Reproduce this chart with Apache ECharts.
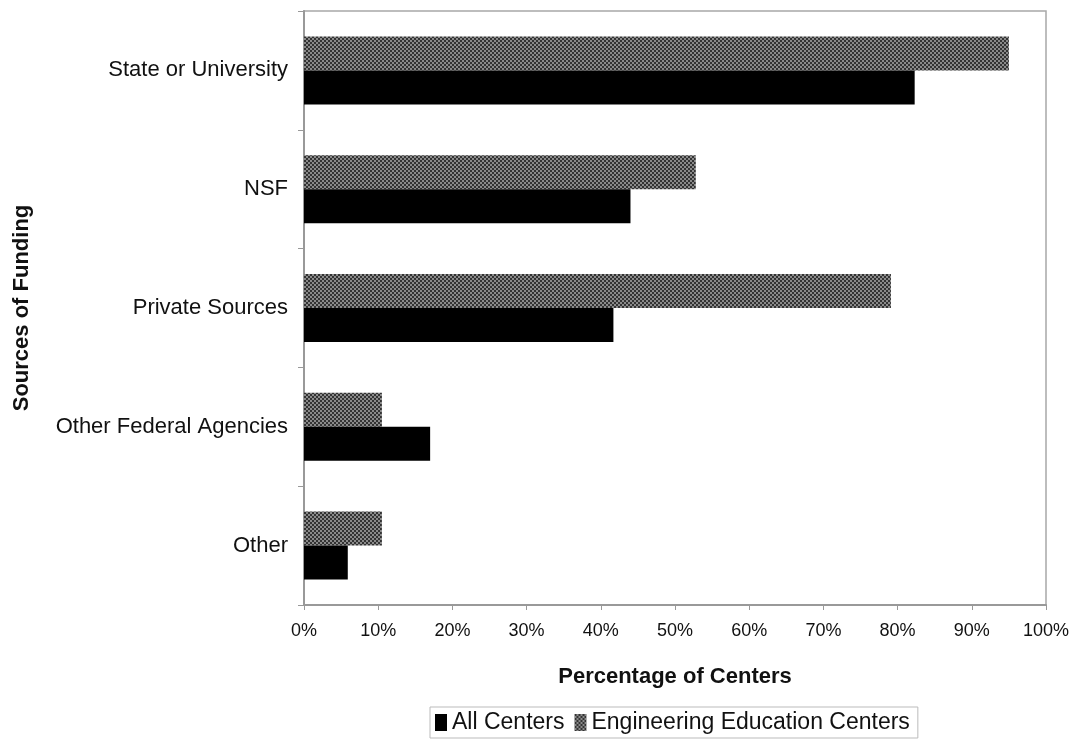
<!DOCTYPE html>
<html>
<head>
<meta charset="utf-8">
<script src="https://cdn.jsdelivr.net/npm/echarts@6/dist/echarts.min.js"></script>
<style>
  html, body { margin: 0; padding: 0; background: #fff; }
  #chart { width: 1079px; height: 742px; }
</style>
</head>
<body>
<div id="chart"></div>
<script>
// Funding sources, listed top to bottom
const categories = ['State or University', 'NSF', 'Private Sources', 'Other Federal Agencies', 'Other'];
// Share of centers (%) receiving each funding source
const allCenters = [82.3, 44.0, 41.7, 17.0, 5.9];
const engineeringCenters = [95.0, 52.8, 79.1, 10.5, 10.5];
const xTicks = [0, 10, 20, 30, 40, 50, 60, 70, 80, 90, 100];

// Fine dotted fill used for the Engineering Education Centers bars
function dotPattern() {
  const c = document.createElement('canvas');
  c.width = 4; c.height = 4;
  const ctx = c.getContext('2d');
  ctx.fillStyle = '#8a8a8a';
  ctx.fillRect(0, 0, 4, 4);
  ctx.fillStyle = '#333';
  ctx.fillRect(0, 0, 2, 2);
  ctx.fillRect(2, 2, 2, 2);
  return c;
}

const font = '"Liberation Sans", Arial, sans-serif';
const chart = echarts.init(document.getElementById('chart'));
chart.setOption({
  animation: false,
  backgroundColor: '#fff',
  textStyle: { fontFamily: font },
  grid: {
    left: 304, right: 33, top: 11, bottom: 137,
    outerBoundsMode: 'none', containLabel: false,
    show: true, borderColor: '#a8a8a8', borderWidth: 1.5
  },
  legend: {
    data: ['All Centers', 'Engineering Education Centers'],
    top: 707, left: 430,
    orient: 'horizontal',
    icon: 'rect',
    itemWidth: 12, itemHeight: 17, itemGap: 10,
    borderColor: '#bbb', borderWidth: 1, padding: [4, 8, 4, 5],
    textStyle: { fontSize: 23, color: '#111', fontFamily: font }
  },
  xAxis: {
    type: 'value', min: xTicks[0], max: xTicks[xTicks.length - 1], interval: 10,
    name: 'Percentage of Centers', nameLocation: 'middle', nameGap: 61,
    nameTextStyle: { fontSize: 22, fontWeight: 'bold', color: '#111', fontFamily: font },
    axisLine: { show: true, lineStyle: { color: '#999', width: 2 } },
    axisTick: { show: true, length: 5, lineStyle: { color: '#999' } },
    axisLabel: { formatter: '{value}%', fontSize: 18, color: '#111', margin: 17, fontFamily: font },
    splitLine: { show: false }
  },
  yAxis: {
    type: 'category', data: categories, inverse: true,
    name: 'Sources of Funding', nameLocation: 'middle', nameGap: 271, nameRotate: 90,
    nameTextStyle: { fontSize: 22, fontWeight: 'bold', color: '#111', fontFamily: font },
    axisLine: { show: true, lineStyle: { color: '#999', width: 2 } },
    axisTick: { show: true, length: 6, lineStyle: { color: '#999' } },
    axisLabel: { fontSize: 22, color: '#111', margin: 16, fontFamily: font, padding: [7, 0, 0, 0] }
  },
  series: [
    {
      name: 'Engineering Education Centers', type: 'bar',
      data: engineeringCenters,
      barWidth: 34, barGap: '0%',
      itemStyle: { color: { image: dotPattern(), repeat: 'repeat' } }
    },
    {
      name: 'All Centers', type: 'bar',
      data: allCenters,
      barWidth: 34, barGap: '0%',
      itemStyle: { color: '#000' }
    }
  ]
});
</script>
</body>
</html>
